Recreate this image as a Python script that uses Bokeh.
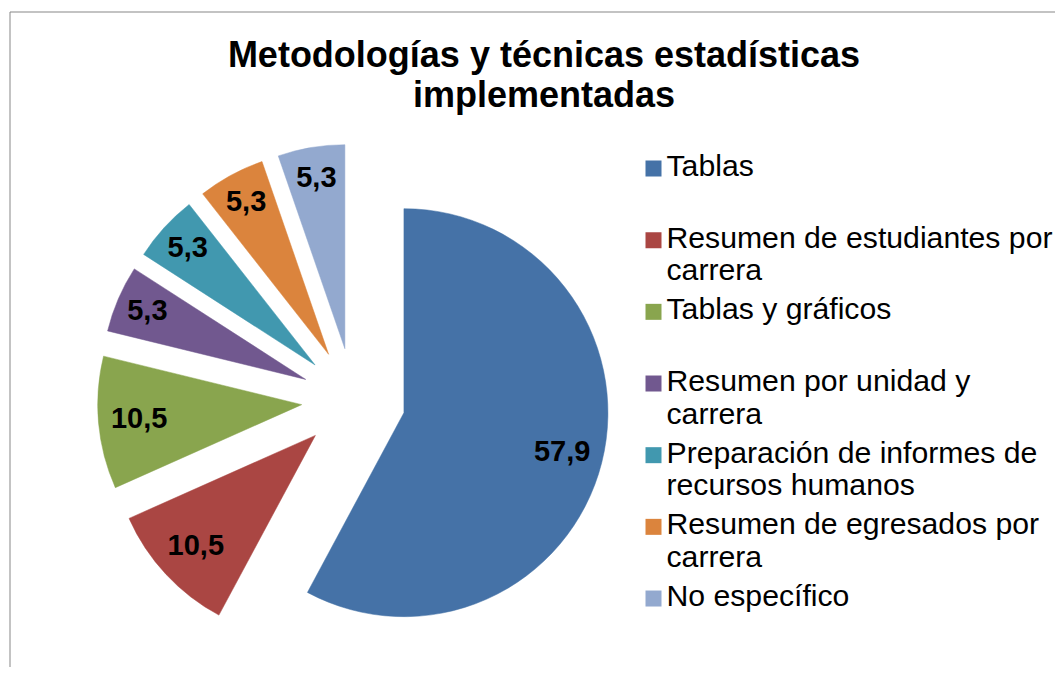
import math
from bokeh.plotting import figure
from bokeh.models import Range1d, ColumnDataSource
from bokeh.core.properties import value
from bokeh.embed import file_html
from bokeh.resources import INLINE

# ---------------- data ----------------
title_lines = ["Metodologías y técnicas estadísticas", "implementadas"]
categories = [
    "Tablas",
    "Resumen de estudiantes por\ncarrera",
    "Tablas y gráficos",
    "Resumen por unidad y\ncarrera",
    "Preparación de informes de\nrecursos humanos",
    "Resumen de egresados por\ncarrera",
    "No específico",
]
values = [57.9, 10.5, 10.5, 5.3, 5.3, 5.3, 5.3]
colors = ["#4572A7", "#AA4643", "#89A54E", "#71588F", "#4198AF", "#DB843D", "#93A9CF"]

# ---------------- layout ----------------
W, H = 1055, 667
FONT = "Liberation Sans"
TEXT_DY = 12  # rendering correction for alphabetic baseline (px)


def sy(screen_y):
    """picture y (px, downwards) -> data y (upwards)"""
    return H - screen_y


def ty_(screen_y):
    """baseline position for text glyphs"""
    return H - screen_y + TEXT_DY


p = figure(
    width=W, height=H,
    x_range=Range1d(0, W), y_range=Range1d(0, H),
    output_backend="svg", toolbar_location=None,
    x_axis_location=None, y_axis_location=None,
    min_border=0,
)
p.grid.visible = False
p.outline_line_color = None
p.background_fill_color = "white"
p.border_fill_color = "white"

# chart-area border (left and top edges visible)
p.segment(x0=[9.5, 9.5], y0=[sy(11.5), sy(11.5)], x1=[9.5, W + 5], y1=[-5, sy(11.5)],
          line_color="#878787", line_width=1)

# ---------------- title ----------------
p.text(x=[543.5, 543.5], y=[ty_(65.5), ty_(106)], text=title_lines,
       text_font=value(FONT), text_font_style="bold", text_font_size="36px",
       text_align="center", text_baseline="alphabetic", text_color="#000000")

# ---------------- exploded pie ----------------
CX, CY = 353, sy(399.5)
R = 204
EXPLODE = 52

total = sum(values)
starts, ends, xs, ys, lx, ly, labels = [], [], [], [], [], [], []
acc = 0.0
for v in values:
    t0 = acc / total * 2 * math.pi
    acc += v
    t1 = acc / total * 2 * math.pi
    tm = (t0 + t1) / 2
    ox = CX + EXPLODE * math.sin(tm)
    oy = CY + EXPLODE * math.cos(tm)
    xs.append(ox)
    ys.append(oy)
    starts.append(math.pi / 2 - t0)
    ends.append(math.pi / 2 - t1)
    # narrow slices get their label pushed further out (best-fit style)
    frac = 0.80 if v / total > 0.08 else 0.845
    lx.append(ox + frac * R * math.sin(tm))
    ly.append(oy + frac * R * math.cos(tm) - 10.4 + TEXT_DY)
    labels.append(f"{v:.1f}".replace(".", ","))

src = ColumnDataSource(dict(x=xs, y=ys, start=starts, end=ends, color=colors))
p.wedge(x="x", y="y", radius=R, start_angle="start", end_angle="end",
        direction="clock", fill_color="color", line_color="color",
        line_width=0.5, source=src)

p.text(x=lx, y=ly, text=labels, text_font=value(FONT), text_font_style="bold",
       text_font_size="29px", text_align="center", text_baseline="alphabetic",
       text_color="#000000")

# ---------------- legend ----------------
LEG_BASE0 = 177
LEG_STEP = 71.67
LINE_STEP = 32.5
sq_x, sq_y = [], []
tx, tyy, tt = [], [], []
for i, cat in enumerate(categories):
    base = LEG_BASE0 + i * LEG_STEP
    sq_x.append(653)
    sq_y.append(sy(base - 9))
    for k, line in enumerate(cat.split("\n")):
        tx.append(666)
        tyy.append(ty_(base + k * LINE_STEP))
        tt.append(line)

p.rect(x=sq_x, y=sq_y, width=16, height=16, fill_color=colors, line_color=None)
p.text(x=tx, y=tyy, text=tt, text_font=value(FONT), text_font_size="30.2px",
       text_align="left", text_baseline="alphabetic", text_color="#000000")

open("out.html", "w").write(file_html(p, INLINE))
